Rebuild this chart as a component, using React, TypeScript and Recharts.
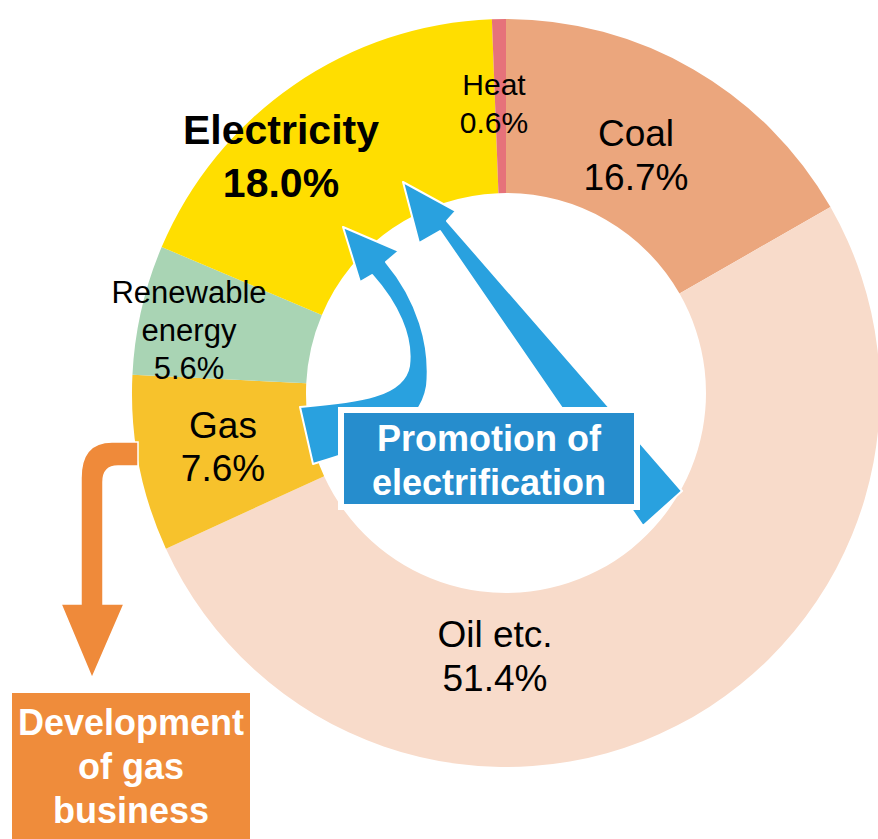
import { PieChart, Pie, Cell } from "recharts";

const categories = ["Coal", "Oil etc.", "Gas", "Renewable energy", "Electricity", "Heat"];
const shares = [16.7, 51.4, 7.6, 5.6, 18.0, 0.6];
const COLORS = ["#EBA67D", "#F8DBCA", "#F7C22C", "#A9D4B4", "#FFDE00", "#E6727A"];

// label text lines per slice (placed by hand like the original figure)
const labelLines = [
  ["Coal", "16.7%"],
  ["Oil etc.", "51.4%"],
  ["Gas", "7.6%"],
  ["Renewable", "energy", "5.6%"],
  ["Electricity", "18.0%"],
  ["Heat", "0.6%"],
];

const LABEL_POS = [
  { x: 636, y: 133, size: 37, gap: 44, bold: false },
  { x: 495, y: 634, size: 37, gap: 44, bold: false },
  { x: 223, y: 425, size: 37, gap: 43, bold: false },
  { x: 189, y: 292, size: 31, gap: 38, bold: false },
  { x: 281, y: 130, size: 41, gap: 53, bold: true },
  { x: 494, y: 84, size: 30, gap: 38, bold: false },
];

const FONT = "'Liberation Sans', Arial, sans-serif";

export default function App() {
  const data = categories.map((name, i) => ({ name, value: shares[i] }));

  return (
    <div style={{ position: "absolute", left: 0, top: 0, width: 878, height: 839, background: "#fff" }}>
      <PieChart width={878} height={839} style={{ position: "absolute", left: 0, top: 0 }}>
        <Pie
          data={data}
          dataKey="value"
          cx={501}
          cy={388}
          innerRadius={200}
          outerRadius={374}
          startAngle={90}
          endAngle={-270}
          stroke="none"
          isAnimationActive={false}
        >
          {data.map((_, index) => (
            <Cell key={index} fill={COLORS[index]} />
          ))}
        </Pie>
      </PieChart>

      <svg width={878} height={839} style={{ position: "absolute", left: 0, top: 0 }}>
        {/* curved blue arrow from gas to electricity */}
        <path
          d="M 300 407 C 360 402, 404 396, 409 366 C 413 336, 397 303, 372 275 L 360 282 L 343 227 L 399 251 L 386 262 C 418 300, 431 346, 427 386 C 420 430, 372 446, 313 464 Z"
          fill="#29A1DF"
          stroke="#ffffff"
          strokeWidth={2}
          strokeLinejoin="round"
        />
        {/* straight blue arrow, widening toward its tail */}
        <path
          d="M 403 182 L 456 211 L 447 221 L 682 491 L 643 526 L 440 231 L 419 243 Z"
          fill="#29A1DF"
          stroke="#ffffff"
          strokeWidth={2}
          strokeLinejoin="round"
        />
        {/* promotion box */}
        <rect x={338} y={407} width={302} height={103} fill="#ffffff" />
        <rect x={344} y={413} width={290} height={91} fill="#268DCD" />
        <text x={489} y={438} textAnchor="middle" dominantBaseline="central" fill="#fff" fontFamily={FONT} fontWeight="bold" fontSize={36}>
          Promotion of
        </text>
        <text x={489} y={482} textAnchor="middle" dominantBaseline="central" fill="#fff" fontFamily={FONT} fontWeight="bold" fontSize={36}>
          electrification
        </text>

        {/* orange arrow down to gas business */}
        <path
          d="M 138 442 L 112 442 Q 81 442 81 478 L 81 604 L 61 604 L 92 678 L 124 604 L 103 604 L 103 482 Q 103 466 118 466 L 138 466 Z"
          fill="#EF8A3A"
          stroke="#ffffff"
          strokeWidth={1.5}
        />
        <rect x={12} y={693} width={238} height={150} fill="#EF8C3B" />
        {["Development", "of gas", "business"].map((t, i) => (
          <text
            key={t}
            x={131}
            y={722 + i * 44}
            textAnchor="middle"
            dominantBaseline="central"
            fill="#fff"
            fontFamily={FONT}
            fontWeight="bold"
            fontSize={36}
          >
            {t}
          </text>
        ))}

        {/* slice labels */}
        {labelLines.map((lines, i) =>
          lines.map((t, j) => (
            <text
              key={i + "-" + j}
              x={LABEL_POS[i].x}
              y={LABEL_POS[i].y + j * LABEL_POS[i].gap}
              textAnchor="middle"
              dominantBaseline="central"
              fill="#000"
              fontFamily={FONT}
              fontWeight={LABEL_POS[i].bold ? "bold" : "normal"}
              fontSize={LABEL_POS[i].size}
            >
              {t}
            </text>
          ))
        )}
      </svg>
    </div>
  );
}
